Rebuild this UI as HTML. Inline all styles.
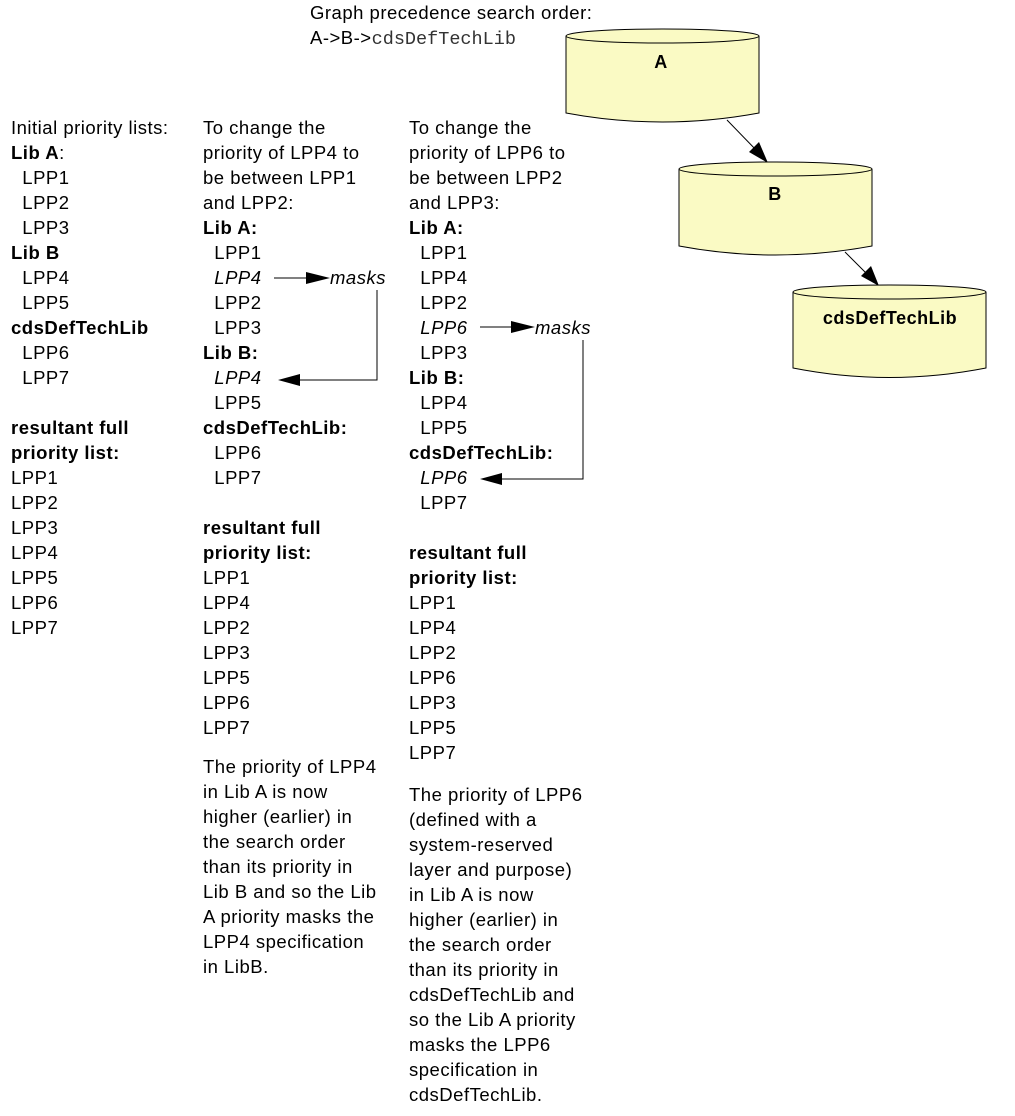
<!DOCTYPE html>
<html><head><meta charset="utf-8"><style>
body{margin:0;width:1015px;height:1116px;background:#fff;position:relative;overflow:hidden;font-family:"Liberation Sans",sans-serif;font-size:18.5px;letter-spacing:0.5px;color:#000}
.c{position:absolute;line-height:25px;white-space:pre}
.b{font-weight:bold}
.i{font-style:italic}
.mono{font-family:"Liberation Mono",monospace;font-size:18.5px;letter-spacing:0;color:#333}
</style></head><body>
<div class="c" style="left:310px;top:0px">Graph precedence search order:
A-&gt;B-&gt;<span class="mono">cdsDefTechLib</span></div>

<div class="c" style="left:11px;top:115px">Initial priority lists:
<span class="b">Lib A</span>:
  LPP1
  LPP2
  LPP3
<span class="b">Lib B</span>
  LPP4
  LPP5
<span class="b">cdsDefTechLib</span>
  LPP6
  LPP7

<span class="b">resultant full</span>
<span class="b">priority list:</span>
LPP1
LPP2
LPP3
LPP4
LPP5
LPP6
LPP7</div>

<div class="c" style="left:203px;top:115px">To change the
priority of LPP4 to
be between LPP1
and LPP2:
<span class="b">Lib A:</span>
  LPP1
  <span class="i">LPP4</span>
  LPP2
  LPP3
<span class="b">Lib B:</span>
  <span class="i">LPP4</span>
  LPP5
<span class="b">cdsDefTechLib:</span>
  LPP6
  LPP7

<span class="b">resultant full</span>
<span class="b">priority list:</span>
LPP1
LPP4
LPP2
LPP3
LPP5
LPP6
LPP7</div>
<div class="c i" style="left:330px;top:265px">masks</div>
<div class="c" style="left:203px;top:754px">The priority of LPP4
in Lib A is now
higher (earlier) in
the search order
than its priority in
Lib B and so the Lib
A priority masks the
LPP4 specification
in LibB.</div>

<div class="c" style="left:409px;top:115px">To change the
priority of LPP6 to
be between LPP2
and LPP3:
<span class="b">Lib A:</span>
  LPP1
  LPP4
  LPP2
  <span class="i">LPP6</span>
  LPP3
<span class="b">Lib B:</span>
  LPP4
  LPP5
<span class="b">cdsDefTechLib:</span>
  <span class="i">LPP6</span>
  LPP7

<span class="b">resultant full</span>
<span class="b">priority list:</span>
LPP1
LPP4
LPP2
LPP6
LPP3
LPP5
LPP7</div>
<div class="c i" style="left:535px;top:315px">masks</div>
<div class="c" style="left:409px;top:782px">The priority of LPP6
(defined with a
system-reserved
layer and purpose)
in Lib A is now
higher (earlier) in
the search order
than its priority in
cdsDefTechLib and
so the Lib A priority
masks the LPP6
specification in
cdsDefTechLib.</div>

<svg style="position:absolute;left:0;top:0" width="1015" height="1116">
<g stroke="#000" stroke-width="1" fill="none">
<line x1="274" y1="278" x2="310" y2="278"/>
<polyline points="377,290 377,380 298,380"/>
<line x1="480" y1="327" x2="515" y2="327"/>
<polyline points="583,340 583,479 500,479"/>
<line x1="727" y1="120" x2="758" y2="152"/>
<line x1="845" y1="252" x2="870" y2="277"/>
</g>
<g fill="#000">
<polygon points="768,163 749,152 759,142"/>
<polygon points="879,286 861,276 871,266"/>
<polygon points="330,278 306,272 306,284"/>
<polygon points="278,380 300,374 300,386"/>
<polygon points="535,327 511,321 511,333"/>
<polygon points="480,479 502,473 502,485"/>
</g>
<g fill="#fafac4" stroke="#000" stroke-width="1">
<path d="M566,36 L566,113 Q662,131 759,113 L759,36"/>
<ellipse cx="662.5" cy="36" rx="96.5" ry="7"/>
<path d="M679,169 L679,246 Q775,264 872,246 L872,169"/>
<ellipse cx="775.5" cy="169" rx="96.5" ry="7"/>
<path d="M793,292 L793,368 Q889,387 986,368 L986,292"/>
<ellipse cx="889.5" cy="292" rx="96.5" ry="7"/>
</g>
<g font-family="Liberation Sans" font-weight="bold" font-size="18" text-anchor="middle" letter-spacing="0.5">
<text x="661" y="68">A</text>
<text x="775" y="200">B</text>
<text x="890" y="324">cdsDefTechLib</text>
</g>
</svg>
</body></html>
